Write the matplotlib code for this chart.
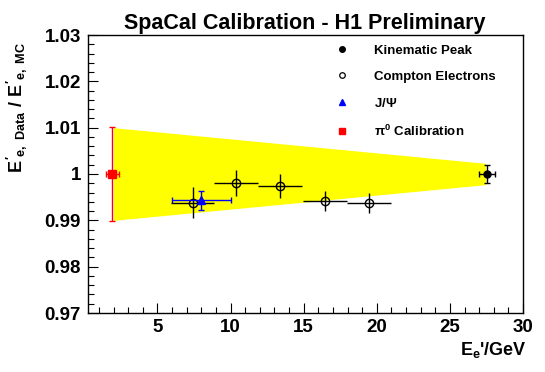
import matplotlib
matplotlib.use("Agg")
import matplotlib.pyplot as plt
from matplotlib.lines import Line2D
from matplotlib.ticker import MultipleLocator, FixedLocator, FixedFormatter
import numpy as np

plt.rcParams['font.family'] = ['Liberation Sans', 'DejaVu Sans']
plt.rcParams['mathtext.fontset'] = 'custom'
plt.rcParams['mathtext.rm'] = 'Liberation Sans:bold'
plt.rcParams['mathtext.it'] = 'Liberation Sans:bold'
plt.rcParams['mathtext.bf'] = 'Liberation Sans:bold'
plt.rcParams['mathtext.sf'] = 'Liberation Sans:bold'

# ---- data ----
kin_x = [27.55]
kin_y = [1.0000]
kin_xerr = [0.53]
kin_yerr = [0.0019]

comp_x = [7.4, 10.4, 13.4, 16.45, 19.45]
comp_y = [0.9938, 0.9980, 0.9974, 0.9942, 0.9937]
comp_xerr = [1.5, 1.5, 1.5, 1.5, 1.5]
comp_yerr = [0.0033, 0.0028, 0.0026, 0.0021, 0.0022]

jpsi_x = [8.0]
jpsi_y = [0.9943]
jpsi_xerr = [2.0]
jpsi_yerr = [0.0020]

pi0_x = [1.9]
pi0_y = [1.0000]
pi0_xerr = [0.45]
pi0_yerr = [0.0101]

band_x = [2.0, 27.45]
band_lo = [0.9900, 0.9977]
band_hi = [1.0100, 1.0023]

ytick_vals = [0.97, 0.98, 0.99, 1.00, 1.01, 1.02, 1.03]
ytick_labels = ['0.97', '0.98', '0.99', '1', '1.01', '1.02', '1.03']
xtick_vals = [5, 10, 15, 20, 25, 30]
xtick_labels = ['5', '10', '15', '20', '25', '30']

legend_labels = ['Kinematic Peak', 'Compton Electrons', r'J/$\Psi$', r'$\pi^{0}$ Calibration']

# ---- figure ----
W, H = 545, 372
fig = plt.figure(figsize=(W / 100, H / 100), dpi=100)
L, R, T, B = 88, 523, 35, 313
ax = fig.add_axes([L / W, 1 - B / H, (R - L) / W, (B - T) / H])

ax.fill_between(band_x, band_lo, band_hi, color='#ffff00', linewidth=0, zorder=1)

lw = 1.0
ax.errorbar(pi0_x, pi0_y, xerr=pi0_xerr, yerr=pi0_yerr, fmt='s', color='#ff0000',
            ms=5.5, elinewidth=lw, capsize=2, capthick=lw, zorder=3)
ax.errorbar(comp_x, comp_y, xerr=comp_xerr, yerr=comp_yerr, fmt='o', mfc='none',
            mec='black', color='black', ms=6, mew=1.0, elinewidth=lw, capsize=0, zorder=3)
ax.errorbar(jpsi_x, jpsi_y, xerr=jpsi_xerr, yerr=jpsi_yerr, fmt='^', color='#0000ff',
            ms=6, elinewidth=lw, capsize=2, capthick=lw, zorder=4)
ax.errorbar(kin_x, kin_y, xerr=kin_xerr, yerr=kin_yerr, fmt='o', color='black',
            ms=5, elinewidth=lw, capsize=2, capthick=lw, zorder=3)

ax.set_xlim(0.25, 30)
ax.set_ylim(0.97, 1.03)

ax.xaxis.set_major_locator(FixedLocator(xtick_vals))
ax.xaxis.set_major_formatter(FixedFormatter(xtick_labels))
ax.xaxis.set_minor_locator(MultipleLocator(1))
ax.yaxis.set_major_locator(FixedLocator(ytick_vals))
ax.yaxis.set_major_formatter(FixedFormatter(ytick_labels))
ax.yaxis.set_minor_locator(MultipleLocator(0.002))

ax.tick_params(which='both', direction='in', top=False, right=False, width=0.8)
ax.tick_params(which='major', length=7)
ax.tick_params(which='minor', length=4)
ax.tick_params(axis='x', pad=4)
ax.tick_params(axis='y', pad=5)
for lab in ax.get_xticklabels() + ax.get_yticklabels():
    lab.set_fontweight('bold')
    lab.set_fontsize(13.5)
for sp in ax.spines.values():
    sp.set_linewidth(1.0)

# legend
handles = [
    Line2D([], [], ls='none', marker='o', color='black', ms=4),
    Line2D([], [], ls='none', marker='o', mfc='none', mec='black', ms=4, mew=0.9),
    Line2D([], [], ls='none', marker='^', color='#0000ff', ms=5),
    Line2D([], [], ls='none', marker='s', color='#ff0000', ms=5),
]
leg = ax.legend(handles, legend_labels, loc='upper left',
                bbox_to_anchor=(335.4 / W, 1 - 44.5 / H), bbox_transform=fig.transFigure,
                frameon=False, borderpad=0, borderaxespad=0, handlelength=1.0,
                handletextpad=1.9, labelspacing=1.05,
                prop={'weight': 'bold', 'size': 9.5})

fig.text(305 / W, 1 - 29.5 / H, 'SpaCal Calibration - H1 Preliminary', ha='center',
         va='baseline', fontsize=15.5, fontweight='bold')
fig.text(17 / W, 1 - 108 / H, r"$E'_{e,\ Data}$ / $E'_{e,\ MC}$", rotation=90,
         ha='center', va='center', fontsize=13, fontweight='bold')
fig.text(527 / W, 1 - 355 / H, r"$E_{e}$'/GeV", ha='right', va='baseline',
         fontsize=13, fontweight='bold')

fig.savefig('out.png', dpi=100)
